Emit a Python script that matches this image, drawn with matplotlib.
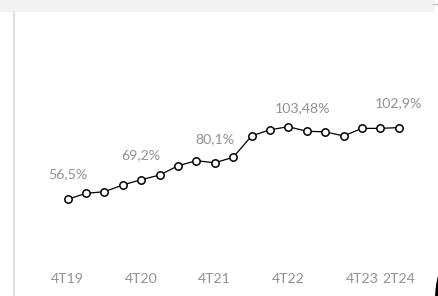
import matplotlib.pyplot as plt
from matplotlib.patches import Rectangle, Ellipse
from matplotlib.lines import Line2D

quarters = ["4T19", "1T20", "2T20", "3T20", "4T20", "1T21", "2T21", "3T21", "4T21",
            "1T22", "2T22", "3T22", "4T22", "1T23", "2T23", "3T23", "4T23", "1T24", "2T24"]
values = [56.5, 60.4, 61.4, 65.8, 69.2, 72.2, 78.2, 81.5, 80.1,
          83.7, 97.5, 101.5, 103.48, 100.5, 100.2, 97.5, 102.4, 102.4, 102.9]
tick_labels = ["4T19", "4T20", "4T21", "4T22", "4T23", "2T24"]
tick_pos = [0, 4, 8, 12, 16, 18]
# (index, text, x offset pt, y offset pt)
point_labels = [(0, "56,5%", 0, 18), (4, "69,2%", 0, 17.3), (8, "80,1%", 0, 17.3),
                (12, "103,48%", 10.4, 13), (18, "102,9%", 0, 17.3)]

plt.rcParams['font.family'] = ['Lato', 'DejaVu Sans']
gray = '#929292'

fig = plt.figure(figsize=(4.39, 2.96), dpi=100)
fig.patch.set_facecolor('white')

# screenshot chrome
fig.patches.append(Rectangle((0, 1 - 12/296), 434/439, 12/296, transform=fig.transFigure,
                             facecolor='#f2f2f2', edgecolor='none'))
fig.lines.append(Line2D([14/439, 14/439], [0, 1 - 12/296], transform=fig.transFigure,
                        color='#d9d9d9', lw=1.2))
fig.lines.append(Line2D([433/439, 1], [1 - 3.5/296, 1 - 3.5/296], transform=fig.transFigure,
                        color='#c0c0c0', lw=1))
fig.patches.append(Ellipse((446/439, 1 - 300/296), 22/439, 70/296, transform=fig.transFigure,
                           facecolor='black', edgecolor='none'))

ax = fig.add_axes([0, 38/296, 1, 246/296])
ax.set_facecolor('none')
x = list(range(len(values)))
ax.plot(x, values, color='black', lw=0.9, marker='o', markersize=5.3,
        markerfacecolor='white', markeredgecolor='black', markeredgewidth=1.1)

for i, txt, dx, dy in point_labels:
    ax.annotate(txt, (i, values[i]), xytext=(dx, dy), textcoords='offset points',
                ha='center', va='center', fontsize=10.2, color=gray)

ax.set_xlim(-3.68, 20.19)
ax.set_ylim(18.52, 177.7)
ax.set_xticks(tick_pos)
ax.set_xticklabels(tick_labels, fontsize=10.2, color=gray)
ax.tick_params(axis='x', length=0, pad=11)
ax.set_yticks([])
for s in ax.spines.values():
    s.set_visible(False)

fig.savefig("out.png", dpi=100)
